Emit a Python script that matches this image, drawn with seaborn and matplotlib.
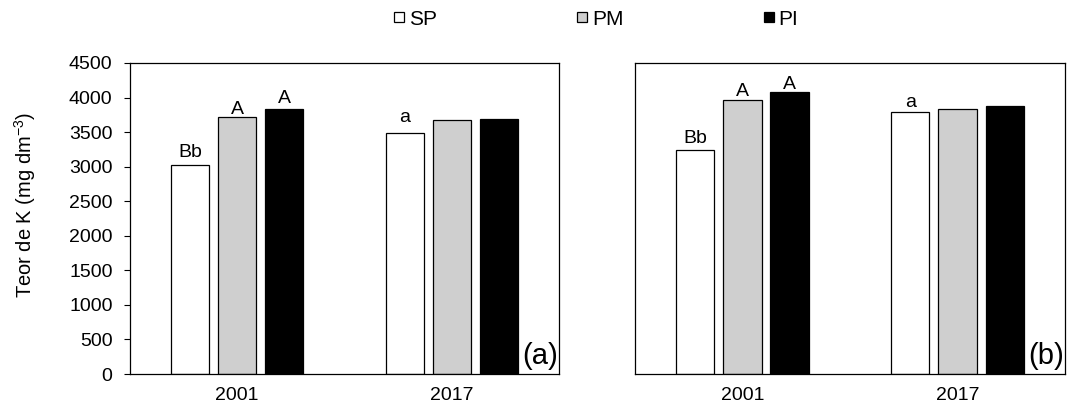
import matplotlib
matplotlib.use('Agg')
import matplotlib.pyplot as plt
from matplotlib.lines import Line2D
import pandas as pd
import seaborn as sns

years = ['2001', '2017']
treatments = ['SP', 'PM', 'PI']
colors = ['white', '#cfcfcf', 'black']

# K content (mg dm-3), [2001, 2017]
sp_a = [3020, 3485]
pm_a = [3720, 3670]
pi_a = [3830, 3690]

sp_b = [3240, 3795]
pm_b = [3965, 3830]
pi_b = [4080, 3880]

# significance letters above bars, per treatment, [2001, 2017]
letters = {'SP': ['Bb', 'a'], 'PM': ['A', ''], 'PI': ['A', '']}

yticks = [0, 500, 1000, 1500, 2000, 2500, 3000, 3500, 4000, 4500]

# gap (points) between bar top and its letter, as placed in the original
gap_a = {'SP': [6.2, 7.9], 'PM': [2.4, 0], 'PI': [4.3, 0]}
gap_b = {'SP': [5.3, 3.6], 'PM': [2.9, 0], 'PI': [2.4, 0]}


def make_df(sp, pm, pi):
    rows = []
    for t, vals in zip(treatments, [sp, pm, pi]):
        for y, v in zip(years, vals):
            rows.append({'year': y, 'trat': t, 'k': v})
    return pd.DataFrame(rows)


sns.set_style('white')
plt.rcParams['font.family'] = ['Liberation Sans', 'DejaVu Sans']
plt.rcParams['mathtext.fontset'] = 'custom'
plt.rcParams['mathtext.rm'] = 'Liberation Sans'
plt.rcParams['mathtext.it'] = 'Liberation Sans'
for key in ['text.color', 'axes.labelcolor', 'xtick.color', 'ytick.color']:
    plt.rcParams[key] = 'black'

fs = 14

fig = plt.figure(figsize=(10.76, 4.08), dpi=100)
ax_a = fig.add_axes([0.1208, 0.0833, 0.3987, 0.7623])
ax_b = fig.add_axes([0.5901, 0.0833, 0.3997, 0.7623])

for ax, df, tag, gaps in [(ax_a, make_df(sp_a, pm_a, pi_a), '(a)', gap_a),
                          (ax_b, make_df(sp_b, pm_b, pi_b), '(b)', gap_b)]:
    sns.barplot(data=df, x='year', y='k', hue='trat', order=years,
                hue_order=treatments, palette=colors, width=0.657, gap=0.19,
                edgecolor='black', linewidth=0.9, legend=False, ax=ax)
    ax.set_xlim(-0.5, 1.5)
    ax.set_ylim(0, 4500)
    ax.set_yticks(yticks)
    ax.set_xlabel('')
    ax.set_ylabel('')
    for s in ax.spines.values():
        s.set_visible(True)
        s.set_color('black')
        s.set_linewidth(0.9)
    ax.tick_params(axis='x', length=0, pad=9, labelsize=fs)
    ax.tick_params(axis='y', direction='out', length=4, width=0.8,
                   pad=8.5, labelsize=fs, left=True)

    for cont, t in zip(ax.containers, treatments):
        for bar, lab, g in zip(cont, letters[t], gaps[t]):
            if lab:
                ax.annotate(lab, (bar.get_x() + bar.get_width() / 2, bar.get_height()),
                            xytext=(0, g), textcoords='offset points',
                            ha='center', va='baseline', fontsize=fs)

    ax.text(0.997, 0.012, tag, transform=ax.transAxes, ha='right',
            va='bottom', fontsize=21)

ax_a.set_ylabel('Teor de K (mg dm$^{-3}$)', fontsize=14.5)
ax_a.yaxis.set_label_coords(-0.214, 0.545)
ax_b.tick_params(axis='y', left=False, labelleft=False)

handles = [Line2D([], [], linestyle='none', marker='s', markersize=7.6,
                  markerfacecolor=c, markeredgecolor='black', markeredgewidth=0.9)
           for c in colors]
fig.legend(handles, treatments, loc='center', ncol=3,
           bbox_to_anchor=(0.554, 0.953), frameon=False, fontsize=15,
           handlelength=0.5, handletextpad=0.2, columnspacing=6.75)

fig.savefig('out.png', dpi=100)
